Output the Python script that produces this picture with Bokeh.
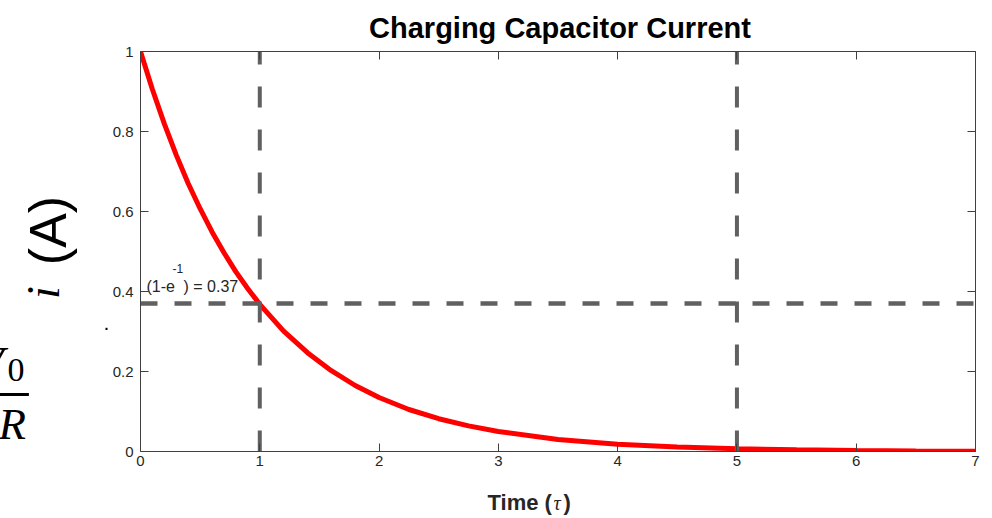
import math
from bokeh.plotting import figure
from bokeh.models import Range1d, LinearAxis, FixedTicker, Label
from bokeh.embed import file_html
from bokeh.resources import INLINE

# ---- data ----
t_values = [0, 0.1, 0.2, 0.3, 0.4, 0.5, 0.6, 0.7, 0.8, 0.9, 1.0,
            1.2, 1.4, 1.6, 1.8, 2.0, 2.25, 2.5, 2.75, 3.0,
            3.5, 4.0, 4.5, 5.0, 5.5, 6.0, 6.5, 7.0]
i_values = [1.000, 0.905, 0.819, 0.741, 0.670, 0.607, 0.549, 0.497, 0.449, 0.407, 0.368,
            0.301, 0.247, 0.202, 0.165, 0.135, 0.105, 0.082, 0.064, 0.050,
            0.030, 0.018, 0.011, 0.0067, 0.0041, 0.0025, 0.0015, 0.0009]
tau_marks = [1, 5]
level_marks = [0.37]
x_ticks = [0, 1, 2, 3, 4, 5, 6, 7]
x_tick_labels = ["0", "1", "2", "3", "4", "5", "6", "7"]
y_ticks = [0, 0.2, 0.4, 0.6, 0.8, 1.0]
y_tick_labels = ["0", "0.2", "0.4", "0.6", "0.8", "1"]
title_text = "Charging Capacitor Current"
annot_text = ["(1-e", "-1", ") = 0.37"]

X0, X1 = 0, 7
Y0, Y1 = 0, 1
FL, FT, FW, FH = 140, 51, 835, 400  # frame in picture pixels
BL = 0.36  # baseline correction (fraction of font size)


def dx(px):
    return X0 + (px - FL) * (X1 - X0) / FW


def dy(py):
    return Y0 + (FT + FH - py) * (Y1 - Y0) / FH


p = figure(frame_width=FW, frame_height=FH,
           x_range=Range1d(X0, X1), y_range=Range1d(Y0, Y1),
           output_backend="svg", toolbar_location=None,
           min_border_left=FL, min_border_top=FT,
           min_border_right=9, min_border_bottom=66)
p.xgrid.visible = False
p.ygrid.visible = False
p.outline_line_color = None
p.background_fill_color = "white"
p.border_fill_color = "white"

AX = "#404040"
TXT = "#262626"


def style(ax, ticks, labels, show):
    ax.ticker = FixedTicker(ticks=ticks)
    ax.major_tick_in = 8
    ax.major_tick_out = 0
    ax.minor_tick_line_color = None
    ax.axis_line_color = AX
    ax.major_tick_line_color = AX
    ax.major_label_text_font = "Liberation Sans"
    ax.major_label_text_color = TXT
    if show:
        ax.major_label_overrides = {t: s for t, s in zip(ticks, labels)}
        ax.major_label_text_font_size = "15px"
    else:
        ax.major_label_overrides = {t: "" for t in ticks}
        ax.major_label_text_font_size = "0px"
        ax.major_label_standoff = 0


style(p.xaxis[0], x_ticks, x_tick_labels, True)
p.xaxis[0].major_label_standoff = 4
style(p.yaxis[0], y_ticks, y_tick_labels, True)
p.yaxis[0].major_label_standoff = 7

top = LinearAxis()
style(top, x_ticks, x_tick_labels, False)
p.add_layout(top, "above")
right = LinearAxis()
style(right, y_ticks, y_tick_labels, False)
p.add_layout(right, "right")

# curve
p.line(t_values, i_values, line_color="#ff0000", line_width=5)
# dashed markers
GRAY = "#606060"
p.segment(x0=tau_marks, y0=[Y0] * len(tau_marks), x1=tau_marks, y1=[Y1] * len(tau_marks),
          line_color=GRAY, line_width=4, line_dash="21 22")
p.segment(x0=[X0] * len(level_marks), y0=level_marks, x1=[X1] * len(level_marks), y1=level_marks,
          line_color=GRAY, line_width=4.5, line_dash="17 17")


def txt(px, py, text, fs, font="Liberation Sans", style="normal", align="left",
        color=TXT, angle=0.0, side=None):
    if angle:
        x, y = dx(px - BL * fs), dy(py)
    else:
        x, y = dx(px), dy(py - BL * fs)
    lab = Label(x=x, y=y, text=text, text_align=align, text_baseline="alphabetic",
                text_font=font, text_font_style=style, text_font_size=f"{fs}px",
                text_color=color, angle=angle)
    if side is None:
        p.add_layout(lab)
    else:
        p.add_layout(lab, side)


# annotation text (inside the frame)
txt(146, 292, annot_text[0], 16)
txt(172, 272, annot_text[1], 12)
txt(183, 292, annot_text[2], 16)

# title
txt(559.5, 38, title_text, 29, style="bold", align="center", color="black", side="above")

# x label: Time (tau)
txt(487, 510, "Time (", 22, style="bold", side="right")
txt(553, 510, "\u03c4", 20, font="Liberation Serif", style="italic", side="right")
txt(563, 510, ")", 22, style="bold", side="right")

# y label: i (A)
txt(66, 230, "(A)", 52, align="center", color="black", angle=math.pi / 2, side="right")
txt(60, 292, "i", 46, font="Liberation Serif", style="italic", align="center",
    color="black", angle=math.pi / 2, side="right")

# V0 / R fraction (cut at the picture edge)
txt(3, 381, "V", 50, font="Liberation Serif", style="italic", align="right",
    color="black", side="right")
txt(7, 382, "0", 34, font="Liberation Serif", color="black", side="right")
txt(28, 387 + BL * 60, "\u2014", 60, font="Liberation Serif", align="right",
    color="black", side="right")
txt(-2, 440, "R", 45, font="Liberation Serif", style="italic", color="black", side="right")
txt(106, 330, ".", 14, style="bold", align="center", color="black", side="right")

open("out.html", "w").write(file_html(p, INLINE))
